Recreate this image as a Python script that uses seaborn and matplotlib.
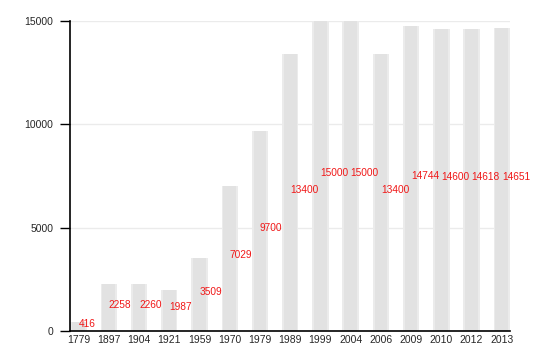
import matplotlib
matplotlib.use("Agg")
import matplotlib.pyplot as plt
import seaborn as sns
import pandas as pd

years = ["1779", "1897", "1904", "1921", "1959", "1970", "1979", "1989",
         "1999", "2004", "2006", "2009", "2010", "2012", "2013"]
population = [416, 2258, 2260, 1987, 3509, 7029, 9700, 13400,
              15000, 15000, 13400, 14744, 14600, 14618, 14651]
yticks = [0, 5000, 10000, 15000]

df = pd.DataFrame({"year": years, "pop": population})

sns.set_style("white")
plt.rcParams["font.family"] = ["Liberation Sans", "DejaVu Sans"]

fig = plt.figure(figsize=(5.5, 3.5), dpi=100)
ax = fig.add_axes([70 / 550, 19 / 350, 440 / 550, 310 / 350])

# soft outer halo then solid core, to mimic gradient edges
sns.barplot(data=df, x="year", y="pop", color="#ebebeb", saturation=1,
            width=0.54, ax=ax, zorder=2, linewidth=0, edgecolor="none")
sns.barplot(data=df, x="year", y="pop", color="#e2e2e2", saturation=1,
            width=0.42, ax=ax, zorder=3, linewidth=0, edgecolor="none")

for i, v in enumerate(population):
    ax.text(i, v / 2, str(v), color="#f01818", fontsize=7.3,
            ha="left", va="baseline", zorder=5)

ax.set_xlim(-0.28, len(years) - 1 + 0.27)
ax.set_ylim(0, 15000)
ax.set_yticks(yticks)
ax.set_yticklabels([str(t) for t in yticks])
ax.yaxis.grid(True, color="#ebebeb", linewidth=1, zorder=0)
ax.set_axisbelow(True)
ax.set_xlabel("")
ax.set_ylabel("")

for s in ["top", "right"]:
    ax.spines[s].set_visible(False)
for s in ["left", "bottom"]:
    ax.spines[s].set_color("black")
    ax.spines[s].set_linewidth(1.2)
    ax.spines[s].set_zorder(6)

ax.tick_params(axis="y", which="both", left=True, length=7, width=1,
               color="black", labelsize=7.5, pad=5)
ax.tick_params(axis="x", which="both", bottom=False, length=0,
               labelsize=7.5, pad=3)

fig.savefig("out.png", dpi=100)
